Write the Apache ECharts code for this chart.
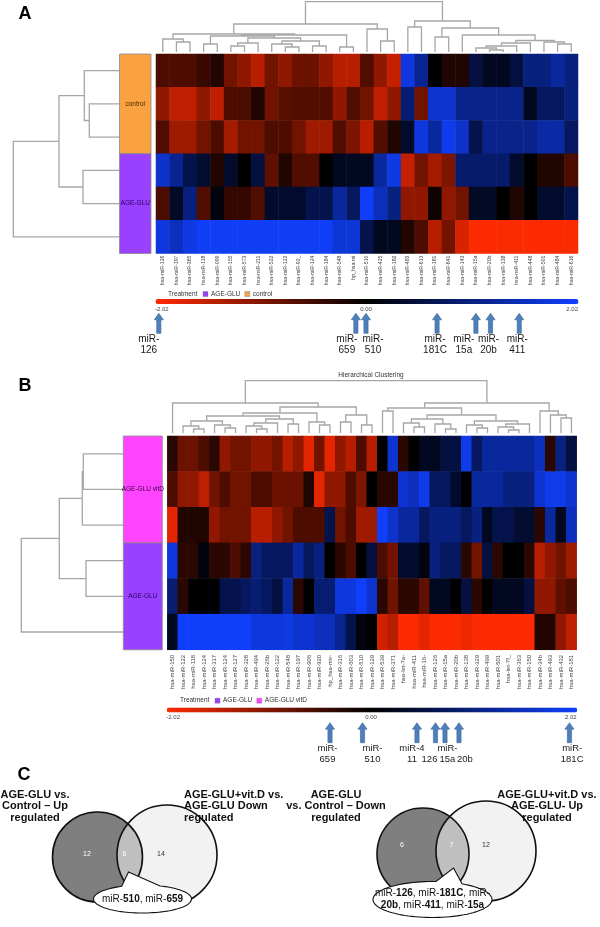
<!DOCTYPE html>
<html>
<head>
<meta charset="utf-8">
<script src="https://cdn.jsdelivr.net/npm/echarts@6/dist/echarts.min.js"></script>
<style>
html,body{margin:0;padding:0;background:#fff;}
#chart{width:600px;height:927px;}
</style>
</head>
<body>
<div id="chart"></div>
<script>
// ================= DATA =================
// Panel A
const colsA = ['hsa-miR-126','hsa-miR-197','hsa-miR-365','hsa-miR-118','hsa-miR-099','hsa-miR-155','hsa-miR-573','hsa-miR-211','hsa-miR-522','hsa-miR-122','hsa-miR-92_','hsa-miR-124','hsa-miR-184','hsa-miR-548','hp_hsa-mi','hsa-miR-510','hsa-miR-425','hsa-miR-182','hsa-miR-483','hsa-miR-613','hsa-miR-181','hsa-miR-641','hsa-miR-143','hsa-miR-15a','hsa-miR-20b','hsa-miR-138','hsa-miR-411','hsa-miR-448','hsa-miR-501','hsa-miR-484','hsa-miR-616'];
const rowsA = ['control 1','control 2','control 3','AGE-GLU 1','AGE-GLU 2','AGE-GLU 3'];
const valsA = [
 [-0.6,-0.6,-0.6,-0.45,-0.25,-0.9,-1.15,-1.45,-0.9,-1.15,-0.85,-0.85,-1.15,-1.45,-1.45,-0.63,-1.15,-1.55,1.75,1.15,0,-0.25,-0.25,0.5,0.25,0.25,0.5,1.0,1.0,1.25,1.0],
 [-1.15,-1.5,-1.5,-1.15,-1.5,-0.6,-0.6,-0.25,-0.9,-0.7,-0.63,-0.63,-0.63,-1.15,-0.63,-0.9,-1.5,-1.15,0.9,-0.9,1.65,1.65,1.1,1.1,1.1,1.1,1.1,0.25,0.75,0.75,1.0],
 [-0.63,-1.25,-1.25,-0.9,-0.6,-1.3,-0.9,-0.9,-0.6,-0.6,-0.9,-1.25,-1.25,-0.63,-1.0,-1.45,-0.63,-0.25,0.35,1.75,1.25,1.85,1.6,0.6,1.1,1.1,1.1,1.1,1.3,1.3,0.75],
 [1.6,1.15,0.6,0.4,-0.25,0.35,0,0.5,-0.75,-0.25,-0.63,-0.63,0,0.25,0.25,0.25,1.25,1.8,-1.55,-0.9,-1.3,-1.0,0.85,0.85,0.85,0.85,0.35,0,-0.25,-0.25,-0.6],
 [-0.6,0.3,1.0,-0.63,0.1,-0.4,-0.4,-0.63,0.35,0.35,0.35,0.6,0.6,1.25,0.75,1.95,1.5,1.0,-1.15,-1.15,-0.12,-1.15,-0.9,0.3,0.3,0,-0.25,0,0.35,0.35,0.6],
 [1.75,1.5,1.8,1.95,1.95,1.95,1.95,1.95,1.95,1.95,1.95,1.95,1.95,1.7,1.7,0.6,0.25,0.25,-0.25,-0.6,-1.45,-0.9,-1.7,-2.0,-2.0,-2.0,-2.0,-2.0,-2.0,-2.0,-2.0]
];
// dendrogram merges: [childA, childB, height]; ids >= n refer to earlier merges
const colLinkA = [[1,2,10],[0,31,13],[3,4,8],[5,6,6],[34,7,9],[9,10,5],[8,36,8],[11,12,6],[37,38,11],[35,39,14],[33,40,16],[13,14,5],[41,42,17],[32,43,18],[16,17,11],[15,45,23],[44,46,28],[18,19,25],[20,21,15],[24,25,2],[23,50,4],[51,26,6],[52,27,9],[29,30,8],[28,54,10],[53,55,11.5],[22,56,17],[49,57,24],[48,58,31],[47,59,50.3]];
const rowLinkA = [[1,2,30],[0,6,35],[3,4,36.3],[7,8,60.3],[9,5,106]];
const groupsA = ['control','AGE-GLU'];
const groupRowsA = [[0,2],[3,5]];
const arrowColsA = [0,14,15,20,23,24,26];
const arrowLabelsA = ['miR-\n126','miR-\n659','miR-\n510','miR-\n181C','miR-\n15a','miR-\n20b','miR-\n411'];

// Panel B
const colsB = ['hsa-miR-150','hsa-miR-122','hsa-miR-118','hsa-miR-124','hsa-miR-317','hsa-miR-124','hsa-miR-127','hsa-miR-328','hsa-miR-494','hsa-miR-26b','hsa-miR-122','hsa-miR-548','hsa-miR-197','hsa-miR-906','hsa-miR-920','hp_hsa-mir-','hsa-miR-316','hsa-miR-603','hsa-miR-510','hsa-miR-129','hsa-miR-539','hsa-miR-371','hsa-let-7a-','hsa-miR-411','hsa-miR-16-','hsa-miR-126','hsa-miR-15a','hsa-miR-20b','hsa-miR-138','hsa-miR-329','hsa-miR-499','hsa-miR-501','hsa-let-7f_','hsa-miR-363','hsa-miR-150','hsa-miR-34b','hsa-miR-493','hsa-miR-432','hsa-miR-181'];
const rowsB = ['AGE-GLU vitD 1','AGE-GLU vitD 2','AGE-GLU vitD 3','AGE-GLU 1','AGE-GLU 2','AGE-GLU 3'];
const valsB = [
 [-0.33,-0.85,-0.85,-0.6,-0.33,-1.15,-0.9,-0.9,-1.15,-1.15,-0.9,-1.45,-1.15,-1.8,-0.9,-1.8,-1.15,-1.45,-0.6,-1.45,0,1.65,-0.33,0,0.25,0.25,0.5,0.5,1.85,0.75,1.25,1.25,1.25,1.25,1.25,1.5,-0.33,1.0,0.5],
 [-0.6,-1.15,-1.15,-1.5,-0.9,-0.6,-0.9,-0.9,-0.6,-0.6,-0.85,-0.85,-0.85,-0.25,-1.8,-1.15,-1.15,-0.6,-1.0,0,-0.33,-0.33,1.65,1.5,1.85,0.75,0.75,0.35,0,1.25,1.25,1.25,1.0,1.0,1.0,1.65,1.85,1.85,1.65],
 [-1.8,-0.25,-0.25,-0.25,-1.15,-0.9,-0.9,-0.9,-1.45,-1.45,-1.15,-0.9,-0.6,-0.6,-0.6,0.6,-0.9,-0.6,-1.25,-1.25,2.0,1.6,1.25,1.25,0.75,1.0,1.0,1.0,0.75,1.0,0.25,0.6,0.6,0.4,0.4,-0.33,1.25,0.25,1.5],
 [1.75,-0.33,-0.33,0.1,-0.33,-0.33,-0.6,-0.33,1.0,0.75,0.75,0.75,1.25,0.75,1.0,0,-0.33,-0.6,0,0.5,-0.6,-0.9,0.35,0.35,0.1,1.0,0.75,0.75,-0.33,-0.9,0.5,-0.33,0,0,-0.33,-1.45,-1.15,-0.9,-1.25],
 [0.9,-0.33,0,0,0,0.6,0.6,0.75,0.9,0.75,0.5,1.25,-0.33,0,0.9,0.9,1.75,1.75,2.0,1.65,-0.33,-0.9,-0.33,-0.33,-0.75,0.25,0.25,0,0.5,-0.33,0,0.25,0.25,0.25,0.5,-1.15,-1.15,-0.75,-0.6],
 [0.25,2.0,2.0,2.0,2.0,2.0,2.0,2.0,1.75,1.75,1.75,1.8,1.65,1.65,1.5,1.5,1.15,0.6,0.1,0,-1.65,-1.45,-2.0,-2.0,-1.8,-2.0,-2.0,-2.0,-1.9,-2.0,-2.0,-2.0,-2.0,-2.0,-2.0,-0.25,-0.25,-1.15,-1.5]
];
const colLinkB = [[2,3,4],[1,39,7],[5,6,5],[4,41,8],[40,42,12],[8,9,4],[7,44,7],[10,45,10],[11,12,9],[46,47,14],[43,48,17],[14,15,8],[13,50,11],[49,51,20],[16,17,11],[18,19,8],[53,54,18],[52,55,26],[0,56,30],[20,21,22],[23,24,6],[22,59,10],[26,27,4],[25,61,9],[60,62,14],[29,30,5],[28,64,8],[32,33,3],[31,66,6],[67,34,9],[65,68,12],[63,69,18],[58,70,25],[37,38,15],[36,72,18],[35,73,22],[71,74,30],[57,75,52.3]];
const rowLinkB = [[0,1,40],[6,2,41],[3,4,37.3],[7,8,64],[9,5,102]];
const groupsB = ['AGE-GLU vitD','AGE-GLU'];
const groupRowsB = [[0,2],[3,5]];
const arrowColsB = [15,18,23,25,26,27,38];
const arrowLabelsB = ['miR-\n659','miR-\n510','miR-4\n11','\n126','miR-\n15a','\n20b','miR-\n181C'];

// colour scale
const scaleMin = -2.02, scaleMax = 2.02;
const scaleTicks = ['-2.02','0.00','2.02'];

// Panel C (Venn)
const vennTitles = [
 'AGE-GLU vs.\nControl – Up\nregulated',
 'AGE-GLU+vit.D vs.\nAGE-GLU Down\nregulated',
 'AGE-GLU\nvs. Control – Down\nregulated',
 'AGE-GLU+vit.D vs.\nAGE-GLU- Up\nregulated'
];
const vennCounts = [[12,6,14],[6,7,12]];
const vennShared = [['510','659'],['126','181C','20b','411','15a']];

// ================= LAYOUT / STYLE =================
const FONT = '"Liberation Sans", Arial, Helvetica, sans-serif';
const ramp = ['#ff2a00','#000000','#1040ff'];
const dendroColor = '#a6a6a6';
const groupColors = {'control':'#f9a23f','AGE-GLU':'#9a40ff','AGE-GLU vitD':'#ff44ff'};
const groupTextColors = {'control':'#4a2a08','AGE-GLU':'#2a0060','AGE-GLU vitD':'#3a0040'};
const labelRows = [1,4];
const arrowShiftA = [-4,2.5,-1,2,0,1,2.5];
const labelShiftA = [-10,-9,7,-2,-12,-2,-2];
const arrowShiftB = [0,1,3,0.5,-0.5,3,-2];
const labelShiftB = [-2.5,10,-5,-6,2.5,6,2.7];
const sharedBreak = [null, 2];
const dyC = -7;

const G = {
  heatA:{left:156, top:54, width:422, height:199.5},
  heatB:{left:167.3, top:436, width:409.4, height:213.8},
  colDA:{left:156, top:1.7, width:422, height:50.3},
  rowDA:{left:13.3, top:54, width:106, height:199.5},
  colDB:{left:167.3, top:380.7, width:409.4, height:52.3},
  rowDB:{left:21.3, top:436, width:102, height:213.8},
  sideA:{left:119.5, top:54, width:31.5, height:199.5},
  sideB:{left:123.3, top:436, width:39, height:213.8},
  arrA:{left:156, top:313.3, width:422, height:20},
  arrB:{left:167.3, top:722.7, width:409.4, height:20}
};

// ================= HELPERS =================
function dendroSegs(link, n) {
  const pos = [], hgt = [];
  for (let i = 0; i < n; i++) { pos[i] = i; hgt[i] = 0; }
  return link.map(([a, b, h], k) => {
    const id = n + k;
    pos[id] = (pos[a] + pos[b]) / 2; hgt[id] = h;
    return [pos[a], hgt[a], pos[b], hgt[b], h];
  });
}
function heatData(vals) {
  const d = [];
  vals.forEach((row, r) => row.forEach((v, c) => d.push([c, r, v])));
  return d;
}
function colDendroRender(params, api) {
  const xa = api.value(0), ha = api.value(1), xb = api.value(2), hb = api.value(3), h = api.value(4);
  return {type:'polyline', shape:{points:[api.coord([xa,ha]),api.coord([xa,h]),api.coord([xb,h]),api.coord([xb,hb])]},
    style:{stroke:dendroColor, lineWidth:1.3, fill:'none'}};
}
function rowDendroRender(params, api) {
  const xa = api.value(0), ha = api.value(1), xb = api.value(2), hb = api.value(3), h = api.value(4);
  return {type:'polyline', shape:{points:[api.coord([ha,xa]),api.coord([h,xa]),api.coord([h,xb]),api.coord([hb,xb])]},
    style:{stroke:dendroColor, lineWidth:1.3, fill:'none'}};
}
function sideRender(groups, groupRows) {
  return function (params, api) {
    const k = params.dataIndex;
    const g = groupRows[k];
    const p0 = api.coord([0, g[0] - 0.5]), p1 = api.coord([1, g[1] + 0.5]);
    const ly = api.coord([0.5, labelRows[k]])[1];
    const name = groups[k];
    return {type:'group', children:[
      {type:'rect', shape:{x:p0[0], y:p0[1], width:p1[0]-p0[0], height:p1[1]-p0[1]},
       style:{fill:groupColors[name], stroke:'#8a8a8a', lineWidth:0.8}},
      {type:'text', x:(p0[0]+p1[0])/2, y:ly, style:{text:name, fontSize:6.5, fontFamily:FONT,
        fill:groupTextColors[name], align:'center', verticalAlign:'middle', textAlign:'center', textVerticalAlign:'middle'}}
    ]};
  };
}
function arrowRender(labels, aShift, lShift, fs) {
  return function (params, api) {
    const i = params.dataIndex;
    const c = api.value(0);
    const b = api.coord([c, 0]), t = api.coord([c, 1]);
    const x = b[0] + aShift[i], yT = t[1], yB = b[1];
    const hw = 4.6, sw = 2.1, hl = 6.5;
    return {type:'group', children:[
      {type:'polygon', shape:{points:[[x,yT],[x+hw,yT+hl],[x+sw,yT+hl],[x+sw,yB],[x-sw,yB],[x-sw,yT+hl],[x-hw,yT+hl]]},
       style:{fill:'#4d7fba', stroke:'#3a6797', lineWidth:0.6}},
      {type:'text', x:x + lShift[i], y:yB, style:{text:labels[i], fontSize:fs, fontFamily:FONT, fill:'#1a1a1a',
        align:'center', verticalAlign:'top', textAlign:'center', textVerticalAlign:'top', lineHeight:11}}
    ]};
  };
}
const hid = (o) => Object.assign({show:false}, o);

// ================= OPTION =================
const grids = [G.heatA, G.heatB, G.colDA, G.rowDA, G.colDB, G.rowDB, G.sideA, G.sideB, G.arrA, G.arrB];
const catLabel = (fs, margin) => ({rotate:90, fontSize:fs, color:'#444', interval:0, margin:margin, fontFamily:FONT});
const xAxis = [
  {type:'category', gridIndex:0, data:colsA, axisLine:{show:false}, axisTick:{show:false}, splitLine:{show:false}, axisLabel:catLabel(5.2, 2)},
  {type:'category', gridIndex:1, data:colsB, axisLine:{show:false}, axisTick:{show:false}, splitLine:{show:false}, axisLabel:catLabel(6, 5)},
  hid({type:'value', gridIndex:2, min:-0.5, max:colsA.length-0.5}),
  hid({type:'value', gridIndex:3, min:0, max:106, inverse:true}),
  hid({type:'value', gridIndex:4, min:-0.5, max:colsB.length-0.5}),
  hid({type:'value', gridIndex:5, min:0, max:102, inverse:true}),
  hid({type:'value', gridIndex:6, min:0, max:1}),
  hid({type:'value', gridIndex:7, min:0, max:1}),
  hid({type:'category', gridIndex:8, data:colsA}),
  hid({type:'category', gridIndex:9, data:colsB})
];
const yAxis = [
  hid({type:'category', gridIndex:0, data:rowsA, inverse:true}),
  hid({type:'category', gridIndex:1, data:rowsB, inverse:true}),
  hid({type:'value', gridIndex:2, min:0, max:50.3}),
  hid({type:'value', gridIndex:3, min:-0.5, max:rowsA.length-0.5, inverse:true}),
  hid({type:'value', gridIndex:4, min:0, max:52.3}),
  hid({type:'value', gridIndex:5, min:-0.5, max:rowsB.length-0.5, inverse:true}),
  hid({type:'value', gridIndex:6, min:-0.5, max:rowsA.length-0.5, inverse:true}),
  hid({type:'value', gridIndex:7, min:-0.5, max:rowsB.length-0.5, inverse:true}),
  hid({type:'value', gridIndex:8, min:0, max:1}),
  hid({type:'value', gridIndex:9, min:0, max:1})
];
const series = [
  {type:'heatmap', xAxisIndex:0, yAxisIndex:0, data:heatData(valsA), silent:true, emphasis:{disabled:true}},
  {type:'heatmap', xAxisIndex:1, yAxisIndex:1, data:heatData(valsB), silent:true, emphasis:{disabled:true}},
  {type:'custom', coordinateSystem:'cartesian2d', xAxisIndex:2, yAxisIndex:2, silent:true, data:dendroSegs(colLinkA, colsA.length), renderItem:colDendroRender},
  {type:'custom', coordinateSystem:'cartesian2d', xAxisIndex:3, yAxisIndex:3, silent:true, data:dendroSegs(rowLinkA, rowsA.length), renderItem:rowDendroRender},
  {type:'custom', coordinateSystem:'cartesian2d', xAxisIndex:4, yAxisIndex:4, silent:true, data:dendroSegs(colLinkB, colsB.length), renderItem:colDendroRender},
  {type:'custom', coordinateSystem:'cartesian2d', xAxisIndex:5, yAxisIndex:5, silent:true, data:dendroSegs(rowLinkB, rowsB.length), renderItem:rowDendroRender},
  {type:'custom', coordinateSystem:'cartesian2d', xAxisIndex:6, yAxisIndex:6, silent:true, data:groupRowsA.map(g=>[0.5,(g[0]+g[1])/2]), renderItem:sideRender(groupsA, groupRowsA)},
  {type:'custom', coordinateSystem:'cartesian2d', xAxisIndex:7, yAxisIndex:7, silent:true, data:groupRowsB.map(g=>[0.5,(g[0]+g[1])/2]), renderItem:sideRender(groupsB, groupRowsB)},
  {type:'custom', coordinateSystem:'cartesian2d', xAxisIndex:8, yAxisIndex:8, silent:true, data:arrowColsA.map(c=>[c,0]), renderItem:arrowRender(arrowLabelsA, arrowShiftA, labelShiftA, 10)},
  {type:'custom', coordinateSystem:'cartesian2d', xAxisIndex:9, yAxisIndex:9, silent:true, data:arrowColsB.map(c=>[c,0]), renderItem:arrowRender(arrowLabelsB, arrowShiftB, labelShiftB, 9.5)}
];
const vm = (si, g, top) => ({type:'continuous', seriesIndex:si, min:scaleMin, max:scaleMax, orient:'horizontal',
  left:g.left - 0.5, top:top, itemWidth:5, itemHeight:g.width + 1, calculable:false, hoverLink:false, padding:0,
  inRange:{color:ramp}});

// ---------- graphic (texts, legends, venn) ----------
const gfx = [];
function txt(x, y, text, o) {
  o = o || {};
  gfx.push({type:'text', x:x, y:y, z:100, silent:true, style:Object.assign({text:text, fontFamily:FONT, fontSize:7, fill:'#333',
    align:o.align||'center', verticalAlign:o.va||'middle', textAlign:o.align||'center', textVerticalAlign:o.va||'middle'}, o.style||{})});
}
// panel letters
txt(25, 14, 'A', {style:{fontSize:18, fontWeight:'bold', fill:'#000'}});
txt(25, 386, 'B', {style:{fontSize:18, fontWeight:'bold', fill:'#000'}});
txt(24, 782 + dyC, 'C', {style:{fontSize:18, fontWeight:'bold', fill:'#000'}});
txt(371, 375, 'Hierarchical Clustering', {style:{fontSize:6.5, fill:'#333'}});

function legend(x, y, groups) {
  txt(x, y, 'Treatment', {align:'left', style:{fontSize:6.5}});
  let cx = x + 35;
  groups.forEach(gname => {
    gfx.push({type:'rect', z:100, silent:true, shape:{x:cx, y:y-2.5, width:5, height:5}, style:{fill:groupColors[gname], stroke:'#777', lineWidth:0.4}});
    txt(cx + 8, y, gname, {align:'left', style:{fontSize:6.5}});
    cx += 8 + gname.length * 3.4 + 10;
  });
}
legend(168, 294, ['AGE-GLU','control']);
legend(180, 700.7, ['AGE-GLU','AGE-GLU vitD']);

function ticks(g, y) {
  txt(g.left - 1, y, scaleTicks[0], {align:'left', style:{fontSize:6, fill:'#444'}});
  txt(g.left + g.width/2 - 1, y, scaleTicks[1], {align:'center', style:{fontSize:6, fill:'#444'}});
  txt(g.left + g.width, y, scaleTicks[2], {align:'right', style:{fontSize:6, fill:'#444'}});
}
ticks(G.heatA, 309);
ticks(G.heatB, 717.3);

// Venn diagrams
const vennLayout = [
  {c1:[97.5,864,45], c2:[167,862,50], nums:[[87,861],[124.5,861],[161,861]],
   bubble:{cx:142.5, cy:906, rx:49, ry:14, b1:121.7, b2:160, tip:[128.5,879]},
   titles:[[35,796,'center'],[184,796,'left']]},
  {c1:[423,861,46], c2:[486,858,50], nums:[[402,852],[451.5,852],[486,852]],
   bubble:{cx:432.5, cy:906.5, rx:59.5, ry:18, b1:436, b2:462, tip:[453.5,875]},
   titles:[[336,796,'center'],[547,796,'center']]}
];
function lens(c1, c2) {
  const [x1,y1,r1] = c1, [x2,y2,r2] = c2;
  const d = Math.hypot(x2-x1, y2-y1);
  const a = (r1*r1 - r2*r2 + d*d) / (2*d);
  const phi = Math.atan2(y2-y1, x2-x1);
  const al = Math.acos(a / r1), be = Math.acos((d - a) / r2);
  const pts = [], N = 40;
  for (let i = 0; i <= N; i++) { const t = phi - al + 2*al*i/N; pts.push([x1 + r1*Math.cos(t), y1 + r1*Math.sin(t)]); }
  for (let i = 0; i <= N; i++) { const t = phi + Math.PI - be + 2*be*i/N; pts.push([x2 + r2*Math.cos(t), y2 + r2*Math.sin(t)]); }
  return pts;
}
function bubblePts(b) {
  const t1 = -Math.acos((b.b1 - b.cx) / b.rx), t2 = -Math.acos((b.b2 - b.cx) / b.rx);
  const pts = [[b.tip[0], b.tip[1] + dyC]];
  const N = 90;
  for (let i = 0; i <= N; i++) { const t = t2 + (t1 + 2*Math.PI - t2) * i / N; pts.push([b.cx + b.rx*Math.cos(t), b.cy + dyC + b.ry*Math.sin(t)]); }
  return pts;
}
function sharedRich(items, brk) {
  let s = '';
  items.forEach((it, i) => {
    s += (i === 0) ? '{n|miR-}' : '{n|, miR-}';
    if (i === brk) s += '\n';
    s += '{b|' + it + '}';
  });
  return s;
}
vennLayout.forEach((L, k) => {
  const z0 = 50 + k * 10;
  const c1 = [L.c1[0], L.c1[1] + dyC, L.c1[2]], c2 = [L.c2[0], L.c2[1] + dyC, L.c2[2]];
  gfx.push({type:'circle', z:z0, silent:true, shape:{cx:c1[0], cy:c1[1], r:c1[2]}, style:{fill:'#7f7f7f'}});
  gfx.push({type:'circle', z:z0+1, silent:true, shape:{cx:c2[0], cy:c2[1], r:c2[2]}, style:{fill:'#f2f2f2'}});
  gfx.push({type:'polygon', z:z0+2, silent:true, shape:{points:lens(c1, c2)}, style:{fill:'#bfbfbf'}});
  gfx.push({type:'circle', z:z0+3, silent:true, shape:{cx:c1[0], cy:c1[1], r:c1[2]}, style:{fill:'none', stroke:'#111', lineWidth:1.6}});
  gfx.push({type:'circle', z:z0+3, silent:true, shape:{cx:c2[0], cy:c2[1], r:c2[2]}, style:{fill:'none', stroke:'#111', lineWidth:1.6}});
  vennCounts[k].forEach((v, j) => {
    gfx.push({type:'text', z:z0+4, silent:true, x:L.nums[j][0], y:L.nums[j][1] + dyC, style:{text:String(v), fontSize:7, fontFamily:FONT,
      fill: j < 2 ? '#ffffff' : '#333333', align:'center', verticalAlign:'middle', textAlign:'center', textVerticalAlign:'middle'}});
  });
  gfx.push({type:'polygon', z:z0+5, silent:true, shape:{points:bubblePts(L.bubble)}, style:{fill:'#ffffff', stroke:'#111', lineWidth:1.1}});
  gfx.push({type:'text', z:z0+6, silent:true, x:L.bubble.cx, y:L.bubble.cy + dyC, style:{text:sharedRich(vennShared[k], sharedBreak[k]),
    align:'center', verticalAlign:'middle', textAlign:'center', textVerticalAlign:'middle', lineHeight:12,
    rich:{n:{fontSize:10, fontFamily:FONT, fill:'#111', lineHeight:12}, b:{fontSize:10, fontFamily:FONT, fontWeight:'bold', fill:'#111', lineHeight:12}}}});
  L.titles.forEach((t, j) => {
    gfx.push({type:'text', z:z0+6, silent:true, x:t[0], y:t[1] + dyC, style:{text:vennTitles[k*2+j], fontSize:11, fontWeight:'bold', fontFamily:FONT,
      fill:'#111', lineHeight:11.5, align:t[2], verticalAlign:'top', textAlign:t[2], textVerticalAlign:'top'}});
  });
});

const option = {
  animation:false,
  backgroundColor:'#ffffff',
  grid: grids.map(g => Object.assign({containLabel:false}, g)),
  xAxis: xAxis,
  yAxis: yAxis,
  visualMap:[vm(0, G.heatA, 299), vm(1, G.heatB, 707.5)],
  series: series,
  graphic:{elements:gfx}
};
const chart = echarts.init(document.getElementById('chart'), null, {renderer:'canvas', width:600, height:927});
chart.setOption(option);
</script>
</body>
</html>
